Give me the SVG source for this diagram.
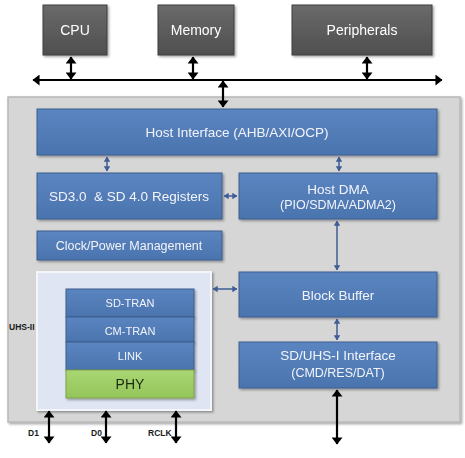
<svg xmlns="http://www.w3.org/2000/svg" width="465" height="458" viewBox="0 0 465 458">
<defs>
<style>
.t{font-family:"Liberation Sans",Arial,sans-serif;text-anchor:middle;dominant-baseline:central}
.w{fill:#ffffff;font-size:14px}
.b{fill:#f2f4fa;font-size:13.5px}
.s{fill:#f2f4fa;font-size:11px}
.blue{fill:url(#gb);stroke:#3c5f90;stroke-width:1}
.gray{fill:url(#gg);stroke:#3f3f3f;stroke-width:1}
.k{stroke:#000;stroke-width:2.2;fill:none}
.a{stroke:#3e5d96;stroke-width:1.5;fill:none}
.lbl{font-family:"Liberation Sans",Arial,sans-serif;font-size:8.5px;font-weight:bold;fill:#1a1a1a}
</style>
<linearGradient id="gb" x1="0" y1="0" x2="0" y2="1">
<stop offset="0" stop-color="#5b85c0"/><stop offset="1" stop-color="#4a74ae"/>
</linearGradient>
<linearGradient id="gg" x1="0" y1="0" x2="0" y2="1">
<stop offset="0" stop-color="#6a6a6a"/><stop offset="1" stop-color="#4f4f4f"/>
</linearGradient>
<linearGradient id="gp" x1="0" y1="0" x2="0" y2="1">
<stop offset="0" stop-color="#a9d673"/><stop offset="1" stop-color="#94c55a"/>
</linearGradient>
<filter id="sh" x="-10%" y="-10%" width="130%" height="140%">
<feDropShadow dx="1.5" dy="1.5" stdDeviation="1.2" flood-color="#000" flood-opacity="0.35"/>
</filter>
<marker id="mk" viewBox="0 0 7 11" refX="6.5" refY="5.5" markerWidth="3.2" markerHeight="5" preserveAspectRatio="none" orient="auto-start-reverse" markerUnits="strokeWidth">
<path d="M0,0 L7,5.5 L0,11 z" fill="#000"/>
</marker>
<marker id="mb" viewBox="0 0 6 8" refX="5.5" refY="4" markerWidth="3.4" markerHeight="4.4" preserveAspectRatio="none" orient="auto-start-reverse" markerUnits="strokeWidth">
<path d="M0,0 L6,4 L0,8 z" fill="#3e5d96"/>
</marker>
</defs>

<g id="cpu" filter="url(#sh)">
<rect class="gray" x="43" y="5" width="64" height="50"/>
<text class="t w" x="75" y="30">CPU</text>
</g>
<g id="memory" filter="url(#sh)">
<rect class="gray" x="158" y="5" width="76" height="50"/>
<text class="t w" x="196" y="30">Memory</text>
</g>
<g id="peripherals" filter="url(#sh)">
<rect class="gray" x="292" y="5" width="140" height="50"/>
<text class="t w" x="362" y="30">Peripherals</text>
</g>

<g id="controller">
<rect x="8" y="97" width="452" height="325" fill="#d6d6d6" stroke="#b8b8b8" stroke-width="1.5" filter="url(#sh)"/>
</g>

<g id="host-interface" filter="url(#sh)">
<rect class="blue" x="37" y="109" width="400" height="46"/>
<text class="t b" x="237" y="132">Host Interface (AHB/AXI/OCP)</text>
</g>
<g id="registers" filter="url(#sh)">
<rect class="blue" x="37" y="173" width="185" height="46"/>
<text class="t b" x="129" y="196" style="white-space:pre">SD3.0  &amp; SD 4.0 Registers</text>
</g>
<g id="host-dma" filter="url(#sh)">
<rect class="blue" x="239" y="173" width="198" height="46"/>
<text class="t b" x="338" y="189">Host DMA</text>
<text class="t b" x="338" y="205" style="font-size:12.5px">(PIO/SDMA/ADMA2)</text>
</g>
<g id="clock-power" filter="url(#sh)">
<rect class="blue" x="37" y="231" width="185" height="29"/>
<text class="t b" x="129" y="245.5" style="font-size:12.5px">Clock/Power Management</text>
</g>
<g id="block-buffer" filter="url(#sh)">
<rect class="blue" x="239" y="272" width="198" height="45"/>
<text class="t b" x="338" y="295">Block Buffer</text>
</g>
<g id="sd-uhs1" filter="url(#sh)">
<rect class="blue" x="239" y="342" width="198" height="46"/>
<text class="t b" x="338" y="355">SD/UHS-I Interface</text>
<text class="t b" x="338" y="373" style="font-size:12.5px">(CMD/RES/DAT)</text>
</g>

<g id="uhs2">
<rect x="37" y="272" width="174" height="138" fill="#dfe5f3" stroke="#f4f6fb" stroke-width="2" filter="url(#sh)"/>
<text class="lbl" x="9" y="330">UHS-II</text>
<g id="sd-tran" filter="url(#sh)">
<rect class="blue" x="66" y="289" width="128" height="28"/>
<text class="t s" x="130" y="303">SD-TRAN</text>
</g>
<g id="cm-tran" filter="url(#sh)">
<rect class="blue" x="66" y="317" width="128" height="25"/>
<text class="t s" x="130" y="331">CM-TRAN</text>
</g>
<g id="link" filter="url(#sh)">
<rect class="blue" x="66" y="342" width="128" height="28"/>
<text class="t s" x="130" y="356">LINK</text>
</g>
<g id="phy" filter="url(#sh)">
<rect x="66" y="370" width="128" height="28" fill="url(#gp)" stroke="#7fa14a" stroke-width="1"/>
<text class="t" x="130" y="384" style="font-size:14px;fill:#1e2a10">PHY</text>
</g>
</g>

<g id="connectors">
<line class="k" x1="33" y1="80" x2="442" y2="80" marker-start="url(#mk)" marker-end="url(#mk)"/>
<line class="k" x1="71" y1="57" x2="71" y2="79" marker-start="url(#mk)" marker-end="url(#mk)"/>
<line class="k" x1="193" y1="57" x2="193" y2="79" marker-start="url(#mk)" marker-end="url(#mk)"/>
<line class="k" x1="367" y1="57" x2="367" y2="79" marker-start="url(#mk)" marker-end="url(#mk)"/>
<line class="k" x1="223" y1="81" x2="223" y2="107" marker-start="url(#mk)" marker-end="url(#mk)"/>
<line class="a" x1="107" y1="157" x2="107" y2="171" marker-start="url(#mb)" marker-end="url(#mb)"/>
<line class="a" x1="339" y1="157" x2="339" y2="171" marker-start="url(#mb)" marker-end="url(#mb)"/>
<line class="a" x1="224" y1="196" x2="237" y2="196" marker-start="url(#mb)" marker-end="url(#mb)"/>
<line class="a" x1="337" y1="221" x2="337" y2="270" marker-start="url(#mb)" marker-end="url(#mb)"/>
<line class="a" x1="213" y1="289" x2="237" y2="289" marker-start="url(#mb)" marker-end="url(#mb)"/>
<line class="a" x1="337" y1="319" x2="337" y2="340" marker-start="url(#mb)" marker-end="url(#mb)"/>
<line class="k" x1="337" y1="390" x2="337" y2="444" marker-start="url(#mk)" marker-end="url(#mk)"/>
<line class="k" x1="49" y1="411" x2="49" y2="443" marker-start="url(#mk)" marker-end="url(#mk)"/>
<line class="k" x1="106" y1="411" x2="106" y2="443" marker-start="url(#mk)" marker-end="url(#mk)"/>
<line class="k" x1="176" y1="411" x2="176" y2="443" marker-start="url(#mk)" marker-end="url(#mk)"/>
<text class="lbl" x="28" y="436">D1</text>
<text class="lbl" x="91" y="436">D0</text>
<text class="lbl" x="148" y="436">RCLK</text>
</g>
</svg>
